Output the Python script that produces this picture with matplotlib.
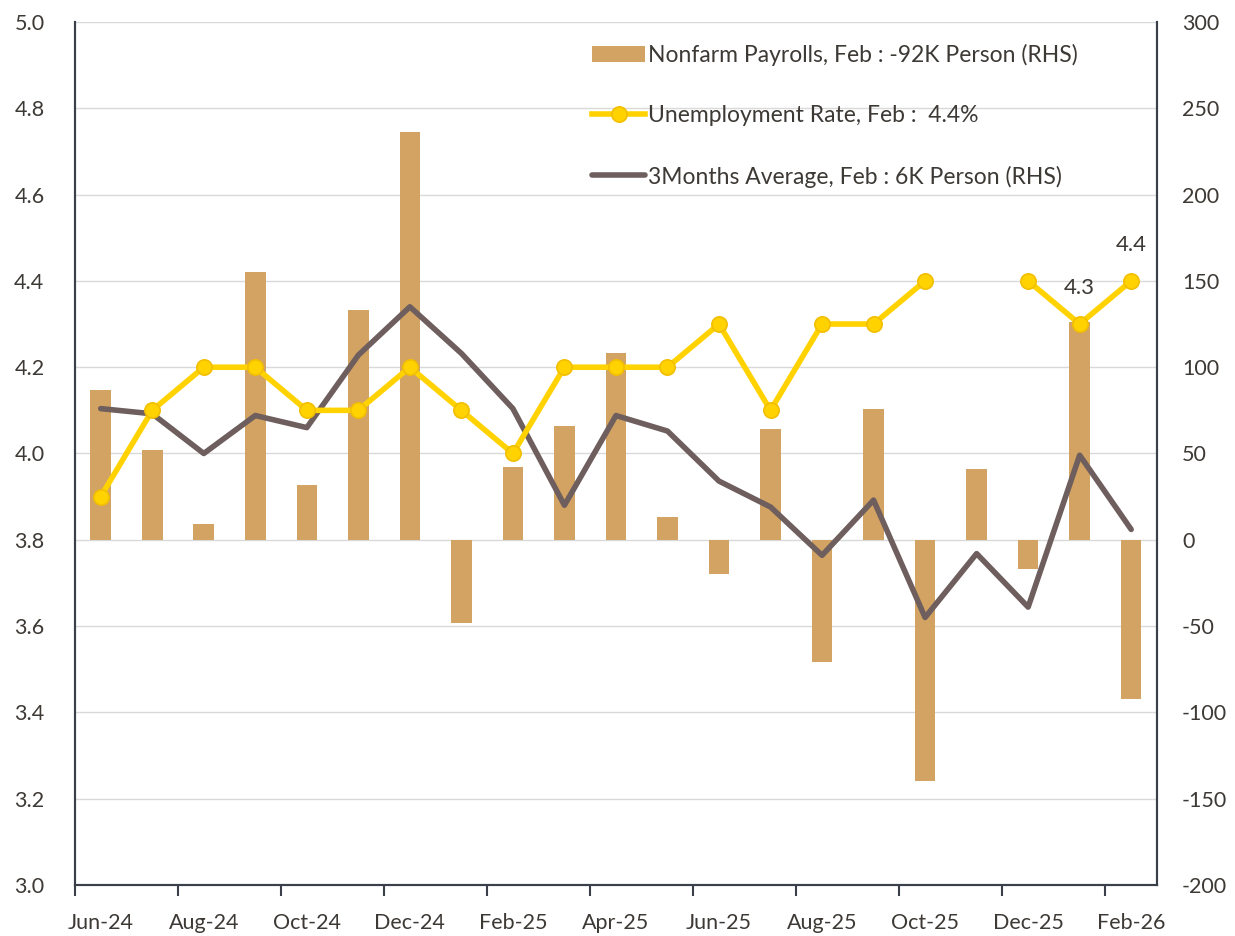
import numpy as np
import matplotlib.pyplot as plt
from matplotlib.ticker import FixedLocator

plt.rcParams['font.family'] = ['Lato', 'DejaVu Sans']
plt.rcParams['axes.unicode_minus'] = False

months = ['Jun-24', 'Jul-24', 'Aug-24', 'Sep-24', 'Oct-24', 'Nov-24', 'Dec-24',
          'Jan-25', 'Feb-25', 'Mar-25', 'Apr-25', 'May-25', 'Jun-25', 'Jul-25',
          'Aug-25', 'Sep-25', 'Oct-25', 'Nov-25', 'Dec-25', 'Jan-26', 'Feb-26']

payrolls = [87, 52, 9, 155, 32, 133, 236, -48, 42, 66, 108, 13, -20, 64,
            -71, 76, -140, 41, -17, 126, -92]
avg3m = [76, 73, 50, 72, 65, 107, 135, 108, 76, 20, 72, 63, 34, 19,
         -9, 23, -45, -8, -39, 49, 6]
unemp = [3.9, 4.1, 4.2, 4.2, 4.1, 4.1, 4.2, 4.1, 4.0, 4.2, 4.2, 4.2, 4.3, 4.1,
         4.3, 4.3, 4.4, np.nan, 4.4, 4.3, 4.4]

txt = '#3d3935'
x = np.arange(len(months))

fig = plt.figure(figsize=(12.35, 9.36), dpi=100)
ax = fig.add_axes([0.0607, 0.0545, 0.8761, 0.922])
ax2 = ax.twinx()

# right axis: bars + 3 months average
ax2.set_ylim(-200, 300)
ax2.set_yticks(range(-200, 301, 50))
ax2.grid(axis='y', color='#d9d9d9', lw=1)
ax2.set_axisbelow(True)
b = ax2.bar(x, payrolls, width=0.4, color='#D2A362', zorder=2,
            label='Nonfarm Payrolls, Feb : -92K Person (RHS)')
l2, = ax2.plot(x, avg3m, color='#6E5F5E', lw=4, zorder=3,
               solid_capstyle='round', label='3Months Average, Feb : 6K Person (RHS)')

# left axis: unemployment rate
ax.set_zorder(ax2.get_zorder() + 1)
ax.patch.set_visible(False)
l1, = ax.plot(x, unemp, color='#FFD200', lw=4, marker='o', ms=11,
              mfc='#FFD200', mec='#F2BE00', mew=1.2,
              label='Unemployment Rate, Feb :  4.4%')
ax.set_ylim(3.0, 5.0)
ax.set_yticks(np.arange(3.0, 5.01, 0.2))
ax.set_yticklabels([f'{v:.1f}' for v in np.arange(3.0, 5.01, 0.2)])
ax.set_xlim(-0.5, len(months) - 0.5)

for i in [19, 20]:
    ax.annotate(f'{unemp[i]:.1f}', (x[i], unemp[i]), xytext=(0, 19),
                textcoords='offset points', ha='center', va='bottom',
                fontsize=16, color=txt)

# x ticks: marks between months, labels every two months
ax.xaxis.set_major_locator(FixedLocator(np.arange(-0.5, len(months), 2)))
ax.xaxis.set_minor_locator(FixedLocator(x[::2]))
ax.set_xticklabels([], minor=False)
ax.set_xticklabels(months[::2], minor=True)
ax.tick_params(axis='x', which='major', length=8, width=1.5, color='#3a3f4a')
ax.tick_params(axis='x', which='minor', length=0, pad=20, labelsize=15.5, labelcolor=txt)
ax.tick_params(axis='y', length=0, pad=22, labelsize=15.5, labelcolor=txt)
ax2.tick_params(axis='y', length=0, pad=18, labelsize=15.5, labelcolor=txt)

for a in (ax, ax2):
    a.spines['top'].set_visible(False)
    for s in ('left', 'right', 'bottom'):
        a.spines[s].set_color('#3a3f4a')
        a.spines[s].set_linewidth(1.5)

leg = ax.legend([b, l1, l2], [b.get_label(), l1.get_label(), l2.get_label()],
                loc='upper left', bbox_to_anchor=(0.459, 0.999), frameon=False,
                fontsize=16.5, labelcolor=txt, handlelength=2.3, handletextpad=0.15,
                labelspacing=1.72)

fig.savefig('out.png', dpi=100)
